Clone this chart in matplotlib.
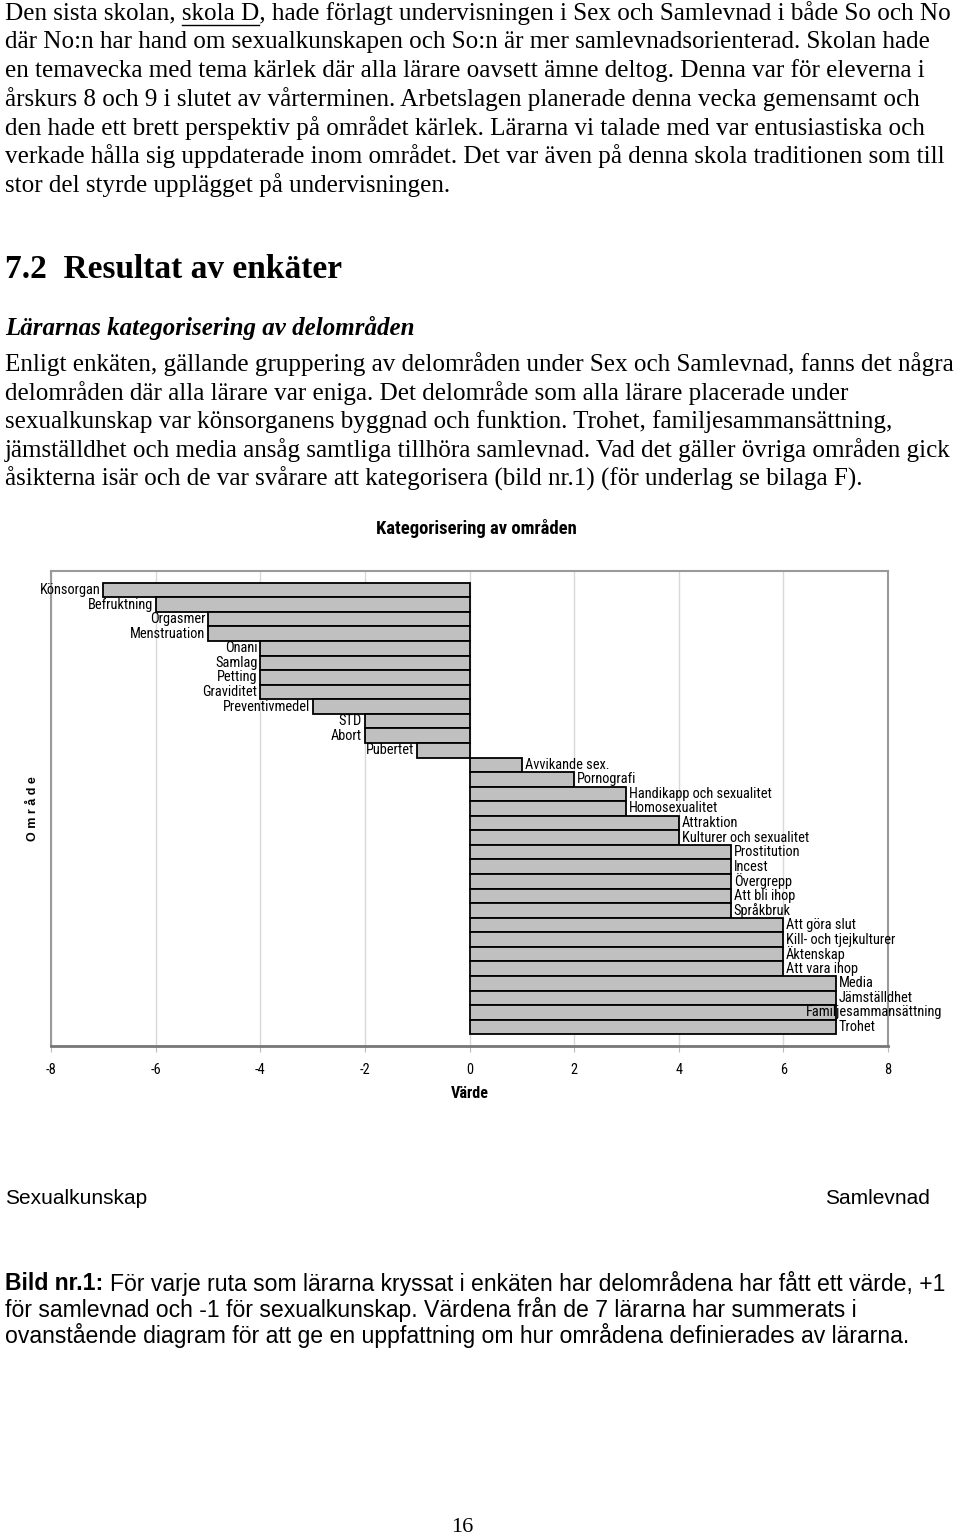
import matplotlib
matplotlib.use("Agg")
import matplotlib.pyplot as plt
from matplotlib import font_manager
import numpy as np

# chart data (top to bottom)
categories = [
    "Könsorgan", "Befruktning", "Orgasmer", "Menstruation", "Onani", "Samlag",
    "Petting", "Graviditet", "Preventivmedel", "STD", "Abort", "Pubertet",
    "Avvikande sex.", "Pornografi", "Handikapp och sexualitet", "Homosexualitet",
    "Attraktion", "Kulturer och sexualitet", "Prostitution", "Incest", "Övergrepp",
    "Att bli ihop", "Språkbruk", "Att göra slut", "Kill- och tjejkulturer",
    "Äktenskap", "Att vara ihop", "Media", "Jämställdhet",
    "Familjesammansättning", "Trohet",
]
values = [-7, -6, -5, -5, -4, -4, -4, -4, -3, -2, -2, -1,
          1, 2, 3, 3, 4, 4, 5, 5, 5, 5, 5, 6, 6, 6, 6, 7, 7, 7, 7]
xticks = [-8, -6, -4, -2, 0, 2, 4, 6, 8]

chart_title = "Kategorisering av områden"
x_label = "Värde"
y_label = "Område"

body1 = [
    "Den sista skolan, skola D, hade förlagt undervisningen i Sex och Samlevnad i både So och No",
    "där No:n har hand om sexualkunskapen och So:n är mer samlevnadsorienterad. Skolan hade",
    "en temavecka med tema kärlek där alla lärare oavsett ämne deltog. Denna var för eleverna i",
    "årskurs 8 och 9 i slutet av vårterminen. Arbetslagen planerade denna vecka gemensamt och",
    "den hade ett brett perspektiv på området kärlek. Lärarna vi talade med var entusiastiska och",
    "verkade hålla sig uppdaterade inom området. Det var även på denna skola traditionen som till",
    "stor del styrde upplägget på undervisningen.",
]
heading = "7.2  Resultat av enkäter"
subheading = "Lärarnas kategorisering av delområden"
body2 = [
    "Enligt enkäten, gällande gruppering av delområden under Sex och Samlevnad, fanns det några",
    "delområden där alla lärare var eniga. Det delområde som alla lärare placerade under",
    "sexualkunskap var könsorganens byggnad och funktion. Trohet, familjesammansättning,",
    "jämställdhet och media ansåg samtliga tillhöra samlevnad. Vad det gäller övriga områden gick",
    "åsikterna isär och de var svårare att kategorisera (bild nr.1) (för underlag se bilaga F).",
]
caption_bold = "Bild nr.1:"
caption = [
    "För varje ruta som lärarna kryssat i enkäten har delområdena har fått ett värde, +1",
    "för samlevnad och -1 för sexualkunskap. Värdena från de 7 lärarna har summerats i",
    "ovanstående diagram för att ge en uppfattning om hur områdena definierades av lärarna.",
]

serif = "Liberation Serif"
sans = "Liberation Sans"


def wnum(w):
    return w if isinstance(w, int) else font_manager.weight_dict.get(w, 400)


# look for a condensed sans for the chart, preferring one that has a bold face
cands = {}
for f in font_manager.fontManager.ttflist:
    if "Narrow" in f.name or "Condensed" in f.name:
        cands.setdefault(f.name, set()).add(wnum(f.weight))
narrow, narrow_bold = None, False
for name in ["Liberation Sans Narrow", "Arial Narrow", "Roboto Condensed"]:
    w = cands.get(name, set())
    if any(350 <= x <= 500 for x in w) and any(x >= 600 for x in w):
        narrow, narrow_bold = name, True
        break
if narrow is None:
    for name, weights in sorted(cands.items()):
        has_reg = any(350 <= w <= 500 for w in weights)
        has_bold = any(w >= 600 for w in weights)
        if has_reg and (narrow is None or (has_bold and not narrow_bold)):
            narrow, narrow_bold = name, has_bold

if narrow:
    lab_kw = dict(family=narrow, fontsize=10.4)
else:
    lab_kw = dict(family=sans, fontsize=9.2)
if narrow and narrow_bold:
    title_kw = dict(family=narrow, fontsize=13.4, weight="bold")
    xlab_kw = dict(family=narrow, fontsize=11.6, weight="bold")
else:
    title_kw = dict(family=sans, fontsize=11.2, weight="bold")
    xlab_kw = dict(family=sans, fontsize=9.7, weight="bold")

W, H = 960, 1537
fig = plt.figure(figsize=(W / 100, H / 100), dpi=100)
renderer = fig.canvas.get_renderer()


def fx(x):
    return x / W


def fy(y):
    return 1 - y / H


def width_of(s, **kw):
    t = fig.text(0, 0, s, **kw)
    w = t.get_window_extent(renderer).width
    t.remove()
    return w


# body text above chart
serif_kw = dict(family=serif, fontsize=18.1)
for i, line in enumerate(body1):
    fig.text(fx(5), fy(13 + i * 28.7), line, va="center", **serif_kw)

# underline "skola D"
end = 5 + width_of("Den sista skolan, skola D", **serif_kw)
start = end - width_of("skola D", **serif_kw)
fig.add_artist(plt.Line2D([fx(start), fx(end)], [fy(25), fy(25)], color="black", lw=1))

fig.text(fx(5), fy(270), heading, va="center", family=serif, fontsize=24, weight="bold")
fig.text(fx(5), fy(328), subheading, va="center", family=serif, fontsize=18,
         weight="bold", style="italic")
for i, line in enumerate(body2):
    fig.text(fx(5), fy(364 + i * 28.7), line, va="center", **serif_kw)

# chart
ax = fig.add_axes([fx(51), fy(1046), fx(888) - fx(51), fy(571) - fy(1046)])
y = np.arange(len(categories))
ax.barh(y, values, height=1.0, color="#c0c0c0", edgecolor="black", linewidth=1.3, zorder=3)
ax.set_xlim(-8, 8)
ax.set_ylim(len(categories) - 0.5 + 0.8, -0.5 - 0.8)
ax.set_xticks(xticks)
ax.set_xticklabels([str(v) for v in xticks], **lab_kw)
ax.set_yticks([])
ax.tick_params(axis="x", length=4, color="#bbbbbb", pad=8)
ax.grid(axis="x", color="#d8d8d8", linewidth=1, zorder=0)
for side in ["top", "left", "right"]:
    ax.spines[side].set_color("#9a9a9a")
    ax.spines[side].set_linewidth(1.5)
ax.spines["bottom"].set_color("#777777")
ax.spines["bottom"].set_linewidth(2)
ax.set_xlabel(x_label, labelpad=7, **xlab_kw)

limit_px = 942
for yi, (name, v) in enumerate(zip(categories, values)):
    if v < 0:
        t = ax.annotate(name, (v, yi), xytext=(-2, 0), textcoords="offset points",
                        ha="right", va="center", zorder=4, **lab_kw)
    else:
        t = ax.annotate(name, (v, yi), xytext=(2, 0), textcoords="offset points",
                        ha="left", va="center", zorder=4, **lab_kw)
        bb = t.get_window_extent(renderer)
        if bb.x1 > limit_px:
            t.xyann = (2 - (bb.x1 - limit_px) * 72 / 100, 0)

fig.text(fx(476), fy(528), chart_title, ha="center", va="center", **title_kw)
fig.text(fx(33), fy(809), " ".join(y_label), ha="center", va="center", rotation=90,
         family=sans, fontsize=9, weight="bold")

# labels under the chart
fig.text(fx(5), fy(1198), "Sexualkunskap", va="center", family=sans, fontsize=15)
fig.text(fx(930), fy(1198), "Samlevnad", va="center", ha="right", family=sans, fontsize=15)

cap_kw = dict(family=sans, fontsize=16.6)
bold_w = width_of(caption_bold, weight="bold", **cap_kw)
space_w = width_of("a a", **cap_kw) - width_of("aa", **cap_kw)
fig.text(fx(5), fy(1283), caption_bold, va="center", weight="bold", **cap_kw)
fig.text(fx(5 + bold_w + space_w), fy(1283), caption[0], va="center", **cap_kw)
for i, line in enumerate(caption[1:]):
    fig.text(fx(5), fy(1309 + i * 26), line, va="center", **cap_kw)

fig.text(fx(462), fy(1527), "16", ha="center", va="center", family=serif, fontsize=16)

fig.savefig("out.png", dpi=100)
